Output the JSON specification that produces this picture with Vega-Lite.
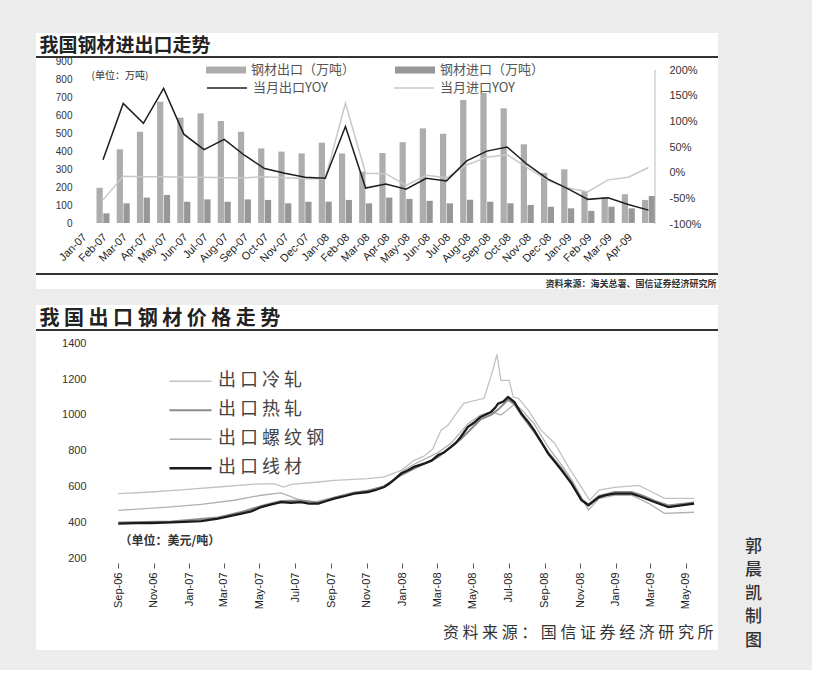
{
  "$schema": "https://vega.github.io/schema/vega-lite/v6.json",
  "background": "#ececec",
  "padding": {"left": 35, "top": 33, "right": 50, "bottom": 20},
  "spacing": 16,
  "resolve": {"scale": {"fill": "independent", "stroke": "independent", "strokeWidth": "independent"}},
  "config": {
    "view": {"stroke": null, "fill": "#ffffff"},
    "font": "Noto Sans CJK SC",
    "axis": {"labelFont": "Liberation Sans", "labelColor": "#333333", "labelFontSize": 11, "grid": false, "domain": false, "ticks": false, "titleFont": "Noto Sans CJK SC", "titleColor": "#333333"},
    "legend": {"labelFont": "Noto Sans CJK SC", "labelColor": "#555555"}
  },
  "datasets": {
    "trade": [
      {"month": "Jan-07", "series": "钢材出口（万吨）", "value": 197}, {"month": "Jan-07", "series": "钢材进口（万吨）", "value": 54},
      {"month": "Feb-07", "series": "钢材出口（万吨）", "value": 412}, {"month": "Feb-07", "series": "钢材进口（万吨）", "value": 110},
      {"month": "Mar-07", "series": "钢材出口（万吨）", "value": 510}, {"month": "Mar-07", "series": "钢材进口（万吨）", "value": 142},
      {"month": "Apr-07", "series": "钢材出口（万吨）", "value": 678}, {"month": "Apr-07", "series": "钢材进口（万吨）", "value": 157},
      {"month": "May-07", "series": "钢材出口（万吨）", "value": 589}, {"month": "May-07", "series": "钢材进口（万吨）", "value": 119},
      {"month": "Jun-07", "series": "钢材出口（万吨）", "value": 613}, {"month": "Jun-07", "series": "钢材进口（万吨）", "value": 132},
      {"month": "Jul-07", "series": "钢材出口（万吨）", "value": 570}, {"month": "Jul-07", "series": "钢材进口（万吨）", "value": 119},
      {"month": "Aug-07", "series": "钢材出口（万吨）", "value": 510}, {"month": "Aug-07", "series": "钢材进口（万吨）", "value": 132},
      {"month": "Sep-07", "series": "钢材出口（万吨）", "value": 417}, {"month": "Sep-07", "series": "钢材进口（万吨）", "value": 129},
      {"month": "Oct-07", "series": "钢材出口（万吨）", "value": 399}, {"month": "Oct-07", "series": "钢材进口（万吨）", "value": 110},
      {"month": "Nov-07", "series": "钢材出口（万吨）", "value": 389}, {"month": "Nov-07", "series": "钢材进口（万吨）", "value": 119},
      {"month": "Dec-07", "series": "钢材出口（万吨）", "value": 449}, {"month": "Dec-07", "series": "钢材进口（万吨）", "value": 119},
      {"month": "Jan-08", "series": "钢材出口（万吨）", "value": 389}, {"month": "Jan-08", "series": "钢材进口（万吨）", "value": 129},
      {"month": "Feb-08", "series": "钢材出口（万吨）", "value": 287}, {"month": "Feb-08", "series": "钢材进口（万吨）", "value": 110},
      {"month": "Mar-08", "series": "钢材出口（万吨）", "value": 391}, {"month": "Mar-08", "series": "钢材进口（万吨）", "value": 142},
      {"month": "Apr-08", "series": "钢材出口（万吨）", "value": 452}, {"month": "Apr-08", "series": "钢材进口（万吨）", "value": 135},
      {"month": "May-08", "series": "钢材出口（万吨）", "value": 529}, {"month": "May-08", "series": "钢材进口（万吨）", "value": 124},
      {"month": "Jun-08", "series": "钢材出口（万吨）", "value": 499}, {"month": "Jun-08", "series": "钢材进口（万吨）", "value": 110},
      {"month": "Jul-08", "series": "钢材出口（万吨）", "value": 688}, {"month": "Jul-08", "series": "钢材进口（万吨）", "value": 130},
      {"month": "Aug-08", "series": "钢材出口（万吨）", "value": 727}, {"month": "Aug-08", "series": "钢材进口（万吨）", "value": 119},
      {"month": "Sep-08", "series": "钢材出口（万吨）", "value": 641}, {"month": "Sep-08", "series": "钢材进口（万吨）", "value": 110},
      {"month": "Oct-08", "series": "钢材出口（万吨）", "value": 440}, {"month": "Oct-08", "series": "钢材进口（万吨）", "value": 101},
      {"month": "Nov-08", "series": "钢材出口（万吨）", "value": 280}, {"month": "Nov-08", "series": "钢材进口（万吨）", "value": 91},
      {"month": "Dec-08", "series": "钢材出口（万吨）", "value": 300}, {"month": "Dec-08", "series": "钢材进口（万吨）", "value": 82},
      {"month": "Jan-09", "series": "钢材出口（万吨）", "value": 178}, {"month": "Jan-09", "series": "钢材进口（万吨）", "value": 68},
      {"month": "Feb-09", "series": "钢材出口（万吨）", "value": 145}, {"month": "Feb-09", "series": "钢材进口（万吨）", "value": 91},
      {"month": "Mar-09", "series": "钢材出口（万吨）", "value": 161}, {"month": "Mar-09", "series": "钢材进口（万吨）", "value": 82},
      {"month": "Apr-09", "series": "钢材出口（万吨）", "value": 129}, {"month": "Apr-09", "series": "钢材进口（万吨）", "value": 151}
    ],
    "yoy": [
      {"month": "Jan-07", "series": "当月出口YOY", "pct": 25}, {"month": "Feb-07", "series": "当月出口YOY", "pct": 135},
      {"month": "Mar-07", "series": "当月出口YOY", "pct": 96}, {"month": "Apr-07", "series": "当月出口YOY", "pct": 164},
      {"month": "May-07", "series": "当月出口YOY", "pct": 75}, {"month": "Jun-07", "series": "当月出口YOY", "pct": 45},
      {"month": "Jul-07", "series": "当月出口YOY", "pct": 65}, {"month": "Aug-07", "series": "当月出口YOY", "pct": 34},
      {"month": "Sep-07", "series": "当月出口YOY", "pct": 8}, {"month": "Oct-07", "series": "当月出口YOY", "pct": -1},
      {"month": "Nov-07", "series": "当月出口YOY", "pct": -9}, {"month": "Dec-07", "series": "当月出口YOY", "pct": -11},
      {"month": "Jan-08", "series": "当月出口YOY", "pct": 90}, {"month": "Feb-08", "series": "当月出口YOY", "pct": -30},
      {"month": "Mar-08", "series": "当月出口YOY", "pct": -22}, {"month": "Apr-08", "series": "当月出口YOY", "pct": -32},
      {"month": "May-08", "series": "当月出口YOY", "pct": -11}, {"month": "Jun-08", "series": "当月出口YOY", "pct": -16},
      {"month": "Jul-08", "series": "当月出口YOY", "pct": 23}, {"month": "Aug-08", "series": "当月出口YOY", "pct": 42},
      {"month": "Sep-08", "series": "当月出口YOY", "pct": 50}, {"month": "Oct-08", "series": "当月出口YOY", "pct": 16},
      {"month": "Nov-08", "series": "当月出口YOY", "pct": -12}, {"month": "Dec-08", "series": "当月出口YOY", "pct": -31},
      {"month": "Jan-09", "series": "当月出口YOY", "pct": -52}, {"month": "Feb-09", "series": "当月出口YOY", "pct": -49},
      {"month": "Mar-09", "series": "当月出口YOY", "pct": -62}, {"month": "Apr-09", "series": "当月出口YOY", "pct": -73},
      {"month": "Jan-07", "series": "当月进口YOY", "pct": -53}, {"month": "Feb-07", "series": "当月进口YOY", "pct": -7},
      {"month": "Mar-07", "series": "当月进口YOY", "pct": -8}, {"month": "Apr-07", "series": "当月进口YOY", "pct": -8},
      {"month": "May-07", "series": "当月进口YOY", "pct": -9}, {"month": "Jun-07", "series": "当月进口YOY", "pct": -9},
      {"month": "Jul-07", "series": "当月进口YOY", "pct": -10}, {"month": "Aug-07", "series": "当月进口YOY", "pct": -10},
      {"month": "Sep-07", "series": "当月进口YOY", "pct": -8}, {"month": "Oct-07", "series": "当月进口YOY", "pct": -10},
      {"month": "Nov-07", "series": "当月进口YOY", "pct": -12}, {"month": "Dec-07", "series": "当月进口YOY", "pct": -12},
      {"month": "Jan-08", "series": "当月进口YOY", "pct": 135}, {"month": "Feb-08", "series": "当月进口YOY", "pct": -1},
      {"month": "Mar-08", "series": "当月进口YOY", "pct": -2}, {"month": "Apr-08", "series": "当月进口YOY", "pct": -25},
      {"month": "May-08", "series": "当月进口YOY", "pct": -5}, {"month": "Jun-08", "series": "当月进口YOY", "pct": -10},
      {"month": "Jul-08", "series": "当月进口YOY", "pct": 15}, {"month": "Aug-08", "series": "当月进口YOY", "pct": 30},
      {"month": "Sep-08", "series": "当月进口YOY", "pct": 35}, {"month": "Oct-08", "series": "当月进口YOY", "pct": 10},
      {"month": "Nov-08", "series": "当月进口YOY", "pct": -15}, {"month": "Dec-08", "series": "当月进口YOY", "pct": -30},
      {"month": "Jan-09", "series": "当月进口YOY", "pct": -37}, {"month": "Feb-09", "series": "当月进口YOY", "pct": -14},
      {"month": "Mar-09", "series": "当月进口YOY", "pct": -9}, {"month": "Apr-09", "series": "当月进口YOY", "pct": 10}
    ],
    "price": [
      {"date": "2006-09-01", "series": "出口线材", "value": 394}, {"date": "2006-10-01", "series": "出口线材", "value": 396},
      {"date": "2006-10-27", "series": "出口线材", "value": 397}, {"date": "2006-12-01", "series": "出口线材", "value": 400},
      {"date": "2006-12-23", "series": "出口线材", "value": 403}, {"date": "2007-01-21", "series": "出口线材", "value": 408},
      {"date": "2007-02-19", "series": "出口线材", "value": 421}, {"date": "2007-03-31", "series": "出口线材", "value": 449},
      {"date": "2007-04-17", "series": "出口线材", "value": 462}, {"date": "2007-05-04", "series": "出口线材", "value": 486},
      {"date": "2007-05-20", "series": "出口线材", "value": 500}, {"date": "2007-06-07", "series": "出口线材", "value": 514},
      {"date": "2007-06-24", "series": "出口线材", "value": 510}, {"date": "2007-07-11", "series": "出口线材", "value": 514},
      {"date": "2007-07-25", "series": "出口线材", "value": 505}, {"date": "2007-08-10", "series": "出口线材", "value": 505},
      {"date": "2007-08-24", "series": "出口线材", "value": 520}, {"date": "2007-09-06", "series": "出口线材", "value": 533},
      {"date": "2007-09-22", "series": "出口线材", "value": 545}, {"date": "2007-10-10", "series": "出口线材", "value": 561},
      {"date": "2007-11-03", "series": "出口线材", "value": 570}, {"date": "2007-11-15", "series": "出口线材", "value": 580},
      {"date": "2007-12-01", "series": "出口线材", "value": 598}, {"date": "2007-12-13", "series": "出口线材", "value": 625},
      {"date": "2007-12-30", "series": "出口线材", "value": 673}, {"date": "2008-01-10", "series": "出口线材", "value": 690},
      {"date": "2008-01-21", "series": "出口线材", "value": 710}, {"date": "2008-02-07", "series": "出口线材", "value": 728},
      {"date": "2008-02-20", "series": "出口线材", "value": 745}, {"date": "2008-03-02", "series": "出口线材", "value": 775},
      {"date": "2008-03-12", "series": "出口线材", "value": 790}, {"date": "2008-03-24", "series": "出口线材", "value": 821},
      {"date": "2008-04-02", "series": "出口线材", "value": 845}, {"date": "2008-04-10", "series": "出口线材", "value": 877},
      {"date": "2008-04-22", "series": "出口线材", "value": 933}, {"date": "2008-05-02", "series": "出口线材", "value": 955},
      {"date": "2008-05-14", "series": "出口线材", "value": 989}, {"date": "2008-06-01", "series": "出口线材", "value": 1017},
      {"date": "2008-06-08", "series": "出口线材", "value": 1040}, {"date": "2008-06-13", "series": "出口线材", "value": 1063},
      {"date": "2008-06-22", "series": "出口线材", "value": 1075}, {"date": "2008-06-30", "series": "出口线材", "value": 1100},
      {"date": "2008-07-11", "series": "出口线材", "value": 1072}, {"date": "2008-07-23", "series": "出口线材", "value": 1008},
      {"date": "2008-08-04", "series": "出口线材", "value": 960}, {"date": "2008-08-14", "series": "出口线材", "value": 914},
      {"date": "2008-08-26", "series": "出口线材", "value": 850}, {"date": "2008-09-07", "series": "出口线材", "value": 784},
      {"date": "2008-09-18", "series": "出口线材", "value": 740}, {"date": "2008-09-30", "series": "出口线材", "value": 691},
      {"date": "2008-10-17", "series": "出口线材", "value": 617}, {"date": "2008-11-03", "series": "出口线材", "value": 524},
      {"date": "2008-11-15", "series": "出口线材", "value": 496}, {"date": "2008-12-03", "series": "出口线材", "value": 542},
      {"date": "2008-12-15", "series": "出口线材", "value": 552}, {"date": "2008-12-30", "series": "出口线材", "value": 561},
      {"date": "2009-01-28", "series": "出口线材", "value": 561}, {"date": "2009-02-14", "series": "出口线材", "value": 542},
      {"date": "2009-03-08", "series": "出口线材", "value": 514}, {"date": "2009-04-01", "series": "出口线材", "value": 486},
      {"date": "2009-04-23", "series": "出口线材", "value": 495}, {"date": "2009-05-15", "series": "出口线材", "value": 505},

      {"date": "2006-09-01", "series": "出口热轧", "value": 400}, {"date": "2006-12-01", "series": "出口热轧", "value": 405},
      {"date": "2007-02-19", "series": "出口热轧", "value": 428}, {"date": "2007-03-31", "series": "出口热轧", "value": 458},
      {"date": "2007-05-04", "series": "出口热轧", "value": 492}, {"date": "2007-06-07", "series": "出口热轧", "value": 520},
      {"date": "2007-07-11", "series": "出口热轧", "value": 522}, {"date": "2007-08-10", "series": "出口热轧", "value": 512},
      {"date": "2007-09-06", "series": "出口热轧", "value": 538}, {"date": "2007-10-10", "series": "出口热轧", "value": 566},
      {"date": "2007-11-03", "series": "出口热轧", "value": 576}, {"date": "2007-12-01", "series": "出口热轧", "value": 603},
      {"date": "2007-12-30", "series": "出口热轧", "value": 665}, {"date": "2008-01-21", "series": "出口热轧", "value": 700},
      {"date": "2008-03-02", "series": "出口热轧", "value": 765}, {"date": "2008-04-10", "series": "出口热轧", "value": 865},
      {"date": "2008-05-14", "series": "出口热轧", "value": 975}, {"date": "2008-06-01", "series": "出口热轧", "value": 1000},
      {"date": "2008-06-13", "series": "出口热轧", "value": 1030}, {"date": "2008-06-30", "series": "出口热轧", "value": 1085},
      {"date": "2008-07-11", "series": "出口热轧", "value": 1060}, {"date": "2008-07-23", "series": "出口热轧", "value": 1000},
      {"date": "2008-08-14", "series": "出口热轧", "value": 905}, {"date": "2008-09-07", "series": "出口热轧", "value": 790},
      {"date": "2008-09-30", "series": "出口热轧", "value": 700}, {"date": "2008-10-17", "series": "出口热轧", "value": 625},
      {"date": "2008-11-03", "series": "出口热轧", "value": 530}, {"date": "2008-11-15", "series": "出口热轧", "value": 500},
      {"date": "2008-12-03", "series": "出口热轧", "value": 548}, {"date": "2008-12-30", "series": "出口热轧", "value": 570},
      {"date": "2009-01-28", "series": "出口热轧", "value": 570}, {"date": "2009-02-14", "series": "出口热轧", "value": 552},
      {"date": "2009-03-08", "series": "出口热轧", "value": 522}, {"date": "2009-04-01", "series": "出口热轧", "value": 495},
      {"date": "2009-05-15", "series": "出口热轧", "value": 512},

      {"date": "2006-09-01", "series": "出口螺纹钢", "value": 468}, {"date": "2006-11-25", "series": "出口螺纹钢", "value": 486},
      {"date": "2007-01-21", "series": "出口螺纹钢", "value": 501}, {"date": "2007-03-19", "series": "出口螺纹钢", "value": 524},
      {"date": "2007-05-04", "series": "出口螺纹钢", "value": 552}, {"date": "2007-06-07", "series": "出口螺纹钢", "value": 565},
      {"date": "2007-07-11", "series": "出口螺纹钢", "value": 524}, {"date": "2007-08-03", "series": "出口螺纹钢", "value": 514},
      {"date": "2007-09-06", "series": "出口螺纹钢", "value": 540}, {"date": "2007-10-10", "series": "出口螺纹钢", "value": 568},
      {"date": "2007-11-03", "series": "出口螺纹钢", "value": 580}, {"date": "2007-12-08", "series": "出口螺纹钢", "value": 607},
      {"date": "2007-12-30", "series": "出口螺纹钢", "value": 682}, {"date": "2008-01-21", "series": "出口螺纹钢", "value": 725},
      {"date": "2008-03-02", "series": "出口螺纹钢", "value": 790}, {"date": "2008-03-24", "series": "出口螺纹钢", "value": 840},
      {"date": "2008-04-22", "series": "出口螺纹钢", "value": 950}, {"date": "2008-05-14", "series": "出口螺纹钢", "value": 1000},
      {"date": "2008-06-01", "series": "出口螺纹钢", "value": 1017}, {"date": "2008-06-18", "series": "出口螺纹钢", "value": 1000},
      {"date": "2008-06-30", "series": "出口螺纹钢", "value": 1030}, {"date": "2008-07-11", "series": "出口螺纹钢", "value": 1060},
      {"date": "2008-07-23", "series": "出口螺纹钢", "value": 1030}, {"date": "2008-08-14", "series": "出口螺纹钢", "value": 950},
      {"date": "2008-09-07", "series": "出口螺纹钢", "value": 820}, {"date": "2008-09-30", "series": "出口螺纹钢", "value": 720},
      {"date": "2008-10-17", "series": "出口螺纹钢", "value": 640}, {"date": "2008-11-03", "series": "出口螺纹钢", "value": 540},
      {"date": "2008-11-15", "series": "出口螺纹钢", "value": 470}, {"date": "2008-12-03", "series": "出口螺纹钢", "value": 533},
      {"date": "2008-12-30", "series": "出口螺纹钢", "value": 552}, {"date": "2009-01-28", "series": "出口螺纹钢", "value": 552},
      {"date": "2009-02-26", "series": "出口螺纹钢", "value": 507}, {"date": "2009-03-25", "series": "出口螺纹钢", "value": 451},
      {"date": "2009-05-15", "series": "出口螺纹钢", "value": 457},

      {"date": "2006-09-01", "series": "出口冷轧", "value": 561}, {"date": "2006-10-27", "series": "出口冷轧", "value": 570},
      {"date": "2006-12-23", "series": "出口冷轧", "value": 583}, {"date": "2007-02-19", "series": "出口冷轧", "value": 598},
      {"date": "2007-04-17", "series": "出口冷轧", "value": 613}, {"date": "2007-05-26", "series": "出口冷轧", "value": 617},
      {"date": "2007-06-11", "series": "出口冷轧", "value": 598}, {"date": "2007-06-24", "series": "出口冷轧", "value": 613},
      {"date": "2007-08-10", "series": "出口冷轧", "value": 626}, {"date": "2007-09-06", "series": "出口冷轧", "value": 635},
      {"date": "2007-11-03", "series": "出口冷轧", "value": 645}, {"date": "2007-12-01", "series": "出口冷轧", "value": 654},
      {"date": "2007-12-30", "series": "出口冷轧", "value": 691}, {"date": "2008-01-21", "series": "出口冷轧", "value": 747},
      {"date": "2008-02-07", "series": "出口冷轧", "value": 770}, {"date": "2008-02-22", "series": "出口冷轧", "value": 810},
      {"date": "2008-03-07", "series": "出口冷轧", "value": 914}, {"date": "2008-03-19", "series": "出口冷轧", "value": 942},
      {"date": "2008-04-15", "series": "出口冷轧", "value": 1065}, {"date": "2008-05-20", "series": "出口冷轧", "value": 1093},
      {"date": "2008-06-04", "series": "出口冷轧", "value": 1249}, {"date": "2008-06-11", "series": "出口冷轧", "value": 1338},
      {"date": "2008-06-18", "series": "出口冷轧", "value": 1193}, {"date": "2008-07-02", "series": "出口冷轧", "value": 1193},
      {"date": "2008-07-09", "series": "出口冷轧", "value": 1100}, {"date": "2008-07-18", "series": "出口冷轧", "value": 1093},
      {"date": "2008-08-04", "series": "出口冷轧", "value": 1026}, {"date": "2008-08-26", "series": "出口冷轧", "value": 914},
      {"date": "2008-09-18", "series": "出口冷轧", "value": 842}, {"date": "2008-10-12", "series": "出口冷轧", "value": 708},
      {"date": "2008-11-03", "series": "出口冷轧", "value": 596}, {"date": "2008-11-17", "series": "出口冷轧", "value": 524},
      {"date": "2008-12-03", "series": "出口冷轧", "value": 580}, {"date": "2008-12-30", "series": "出口冷轧", "value": 596},
      {"date": "2009-02-09", "series": "出口冷轧", "value": 607}, {"date": "2009-02-26", "series": "出口冷轧", "value": 580},
      {"date": "2009-03-25", "series": "出口冷轧", "value": 535}, {"date": "2009-05-15", "series": "出口冷轧", "value": 535}
    ]
  },
  "vconcat": [
    {
      "width": 682,
      "height": 256,
      "layer": [
        {
          "data": {"name": "trade"},
          "mark": {"type": "bar"},
          "encoding": {
            "x": {"field": "month", "type": "nominal",
              "scale": {"domain": ["Jan-07","Feb-07","Mar-07","Apr-07","May-07","Jun-07","Jul-07","Aug-07","Sep-07","Oct-07","Nov-07","Dec-07","Jan-08","Feb-08","Mar-08","Apr-08","May-08","Jun-08","Jul-08","Aug-08","Sep-08","Oct-08","Nov-08","Dec-08","Jan-09","Feb-09","Mar-09","Apr-09"], "range": [60.5, 619], "paddingInner": 0.356, "paddingOuter": 0},
              "axis": {"orient": "bottom", "offset": -66, "labelAngle": -45, "labelOffset": -22, "labelPadding": 8, "labelFontSize": 11, "labelColor": "#222222", "labelOverlap": false, "domain": false, "ticks": false,
                "title": "资料来源：海关总署、国信证券经济研究所", "titleX": 680, "titleY": 60, "titleAlign": "right", "titleBaseline": "middle", "titleAnchor": "end", "titleFontSize": 9, "titleFontWeight": "bold", "titleColor": "#333333"}},
            "xOffset": {"field": "series", "type": "nominal", "scale": {"domain": ["钢材出口（万吨）", "钢材进口（万吨）"], "paddingInner": 0.08}},
            "y": {"field": "value", "type": "quantitative",
              "scale": {"domain": [-368.9, 1062.1], "nice": false, "zero": false},
              "axis": {"orient": "left", "offset": -38, "values": [0,100,200,300,400,500,600,700,800,900], "labelPadding": 2, "labelFontSize": 10,
                "title": "(单位：万吨)", "titleAngle": 0, "titleX": 17, "titleY": 42, "titleAlign": "left", "titleBaseline": "middle", "titleFontSize": 10, "titleFontWeight": "normal"}},
            "y2": {"datum": 0},
            "fill": {"field": "series", "type": "nominal", "scale": {"domain": ["钢材出口（万吨）", "钢材进口（万吨）"], "range": ["#adadad", "#979797"]},
              "legend": {"orient": "none", "legendX": 170, "legendY": 17, "direction": "horizontal", "title": null, "symbolType": "M-1,-0.17H1V0.17H-1Z", "symbolSize": 1600, "symbolStrokeWidth": 0, "labelFontSize": 13, "labelOffset": 5, "columnPadding": 39}}
          }
        },
        {
          "data": {"name": "yoy"},
          "encoding": {
            "x": {"field": "month", "type": "nominal"},
            "y": {"field": "pct", "type": "quantitative",
              "scale": {"domain": [-226.6, 272.1], "nice": false, "zero": false},
              "axis": {"orient": "right", "offset": -51, "values": [-100,-50,0,50,100,150,200], "labelExpr": "datum.value + '%'", "labelPadding": 2, "labelFontSize": 11,
                "title": "我国钢材进出口走势", "titleAngle": 0, "titleX": -628, "titleY": 12, "titleAlign": "left", "titleBaseline": "middle", "titleFontSize": 19, "titleFontWeight": "bold", "titleColor": "#222222", "titleFont": "Noto Sans CJK SC"}},
            "stroke": {"field": "series", "type": "nominal", "scale": {"domain": ["当月出口YOY", "当月进口YOY"], "range": ["#1e1e1e", "#c8c8c8"]},
              "legend": {"orient": "none", "legendX": 170, "legendY": 34, "direction": "horizontal", "title": null, "symbolType": "stroke", "symbolSize": 1600, "symbolStrokeWidth": 1.5, "labelFontSize": 13, "labelOffset": 5, "columnPadding": 63}}
          },
          "layer": [
            {"transform": [{"filter": {"field": "series", "equal": "当月进口YOY"}}], "mark": {"type": "line", "strokeWidth": 1.5}},
            {"transform": [{"filter": {"field": "series", "equal": "当月出口YOY"}}], "mark": {"type": "line", "strokeWidth": 1.5}}
          ]
        },
        {
          "data": {"values": [{}]},
          "mark": {"type": "rule", "color": "#333333", "strokeWidth": 2},
          "encoding": {"y": {"datum": 927.9, "type": "quantitative", "scale": {"domain": [-368.9, 1062.1], "nice": false, "zero": false}, "axis": null}}
        },
        {
          "data": {"values": [{}]},
          "mark": {"type": "rule", "color": "#333333", "strokeWidth": 2},
          "encoding": {"y": {"datum": -285.1, "type": "quantitative", "scale": {"domain": [-368.9, 1062.1], "nice": false, "zero": false}, "axis": null}}
        },
        {
          "data": {"values": [{}]},
          "mark": {"type": "rule", "color": "#bbbbbb", "strokeWidth": 1},
          "encoding": {
            "x": {"datum": "Apr-09", "type": "nominal", "bandPosition": 1},
            "y": {"datum": -100, "type": "quantitative", "scale": {"domain": [-226.6, 272.1], "nice": false, "zero": false}, "axis": null},
            "y2": {"datum": 200}
          }
        }
      ],
      "resolve": {"scale": {"y": "independent"}}
    },
    {
      "width": 682,
      "height": 345,
      "layer": [
        {
          "data": {"name": "price"},
          "encoding": {
            "x": {"field": "date", "type": "temporal",
              "scale": {"type": "utc", "domain": [{"year": 2006, "month": 4, "date": 13, "utc": true}, {"year": 2009, "month": 6, "date": 25, "utc": true}]},
              "axis": {"orient": "bottom", "offset": -87,
                "values": [{"year": 2006, "month": 9, "date": 1, "utc": true}, {"year": 2006, "month": 11, "date": 1, "utc": true}, {"year": 2007, "month": 1, "date": 1, "utc": true}, {"year": 2007, "month": 3, "date": 1, "utc": true}, {"year": 2007, "month": 5, "date": 1, "utc": true}, {"year": 2007, "month": 7, "date": 1, "utc": true}, {"year": 2007, "month": 9, "date": 1, "utc": true}, {"year": 2007, "month": 11, "date": 1, "utc": true}, {"year": 2008, "month": 1, "date": 1, "utc": true}, {"year": 2008, "month": 3, "date": 1, "utc": true}, {"year": 2008, "month": 5, "date": 1, "utc": true}, {"year": 2008, "month": 7, "date": 1, "utc": true}, {"year": 2008, "month": 9, "date": 1, "utc": true}, {"year": 2008, "month": 11, "date": 1, "utc": true}, {"year": 2009, "month": 1, "date": 1, "utc": true}, {"year": 2009, "month": 3, "date": 1, "utc": true}, {"year": 2009, "month": 5, "date": 1, "utc": true}],
                "labelExpr": "utcFormat(datum.value, '%b-%y')", "labelAngle": 270, "labelPadding": 4, "labelFontSize": 11, "labelColor": "#222222", "labelOverlap": false, "labelFlush": false,
                "ticks": true, "tickSize": 5, "tickColor": "#555555", "tickWidth": 1, "domain": false, "grid": false,
                "title": "资 料 来 源 ：  国 信 证 券 经 济 研 究 所", "titleX": 677, "titleY": 69, "titleAlign": "right", "titleBaseline": "middle", "titleAnchor": "end", "titleFontSize": 16, "titleFontWeight": "normal", "titleColor": "#333333"}},
            "y": {"field": "value", "type": "quantitative",
              "scale": {"domain": [-311.8, 1613.8], "nice": false, "zero": false},
              "axis": {"orient": "left", "offset": -52, "values": [200,400,600,800,1000,1200,1400], "format": "d", "labelPadding": 2, "labelFontSize": 11,
                "title": "（单位：美元/吨）", "titleAngle": 0, "titleX": 31, "titleY": 235, "titleAlign": "left", "titleBaseline": "middle", "titleFontSize": 12, "titleFontWeight": "bold", "titleColor": "#333333"}},
            "stroke": {"field": "series", "type": "nominal", "scale": {"domain": ["出口冷轧", "出口热轧", "出口螺纹钢", "出口线材"], "range": ["#c2c2c2", "#8c8c8c", "#b0b0b0", "#1a1a1a"]},
              "legend": {"orient": "none", "legendX": 132, "legendY": 62, "direction": "vertical", "title": null, "symbolType": "stroke", "symbolSize": 1764, "labelFontSize": 18, "labelOffset": 5, "rowPadding": 0, "clipHeight": 28.5, "labelColor": "#444444", "labelExpr": "join(split(datum.label, ''), ' ')"}},
            "strokeWidth": {"field": "series", "type": "nominal", "scale": {"type": "ordinal", "domain": ["出口冷轧", "出口热轧", "出口螺纹钢", "出口线材"], "range": [1.3, 2, 1.3, 2.3]},
              "legend": {"orient": "none", "legendX": 132, "legendY": 62, "direction": "vertical", "title": null, "symbolType": "stroke", "symbolSize": 1764, "labelFontSize": 18, "labelOffset": 5, "rowPadding": 0, "clipHeight": 28.5, "labelColor": "#444444", "labelExpr": "join(split(datum.label, ''), ' ')"}}
          },
          "layer": [
            {"transform": [{"filter": {"field": "series", "equal": "出口冷轧"}}], "mark": {"type": "line"}},
            {"transform": [{"filter": {"field": "series", "equal": "出口螺纹钢"}}], "mark": {"type": "line"}},
            {"transform": [{"filter": {"field": "series", "equal": "出口热轧"}}], "mark": {"type": "line"}},
            {"transform": [{"filter": {"field": "series", "equal": "出口线材"}}], "mark": {"type": "line"}}
          ]
        },
        {
          "data": {"values": [{}]},
          "mark": {"type": "rule", "color": "#333333", "strokeWidth": 2},
          "encoding": {
            "y": {"datum": 1474.2, "type": "quantitative", "scale": {"domain": [-311.8, 1613.8], "nice": false, "zero": false},
              "axis": {"orient": "right", "labels": false, "ticks": false, "domain": false, "grid": false,
                "title": ["郭", "晨", "凯", "制", "图"], "titleAngle": 0, "titleX": 35, "titleY": 233, "titleAlign": "center", "titleBaseline": "top", "titleFontSize": 17, "titleLineHeight": 23.5, "titleColor": "#333333", "titleFontWeight": 500, "titleFont": "Noto Sans CJK SC"}}
          }
        },
        {
          "data": {"values": [{}]},
          "mark": {"type": "rule", "color": "#333333", "strokeWidth": 2},
          "encoding": {
            "y": {"datum": 1474.2, "type": "quantitative", "scale": {"domain": [-311.8, 1613.8], "nice": false, "zero": false},
              "axis": {"orient": "left", "offset": 0, "labels": false, "ticks": false, "domain": false, "grid": false,
                "title": "我 国 出 口 钢 材 价 格 走 势", "titleAngle": 0, "titleX": 3, "titleY": 13, "titleAlign": "left", "titleBaseline": "middle", "titleFontSize": 20, "titleFontWeight": "bold", "titleColor": "#222222", "titleFont": "Noto Sans CJK SC"}}
          }
        }
      ],
      "resolve": {"scale": {"y": "independent"}}
    }
  ]
}
